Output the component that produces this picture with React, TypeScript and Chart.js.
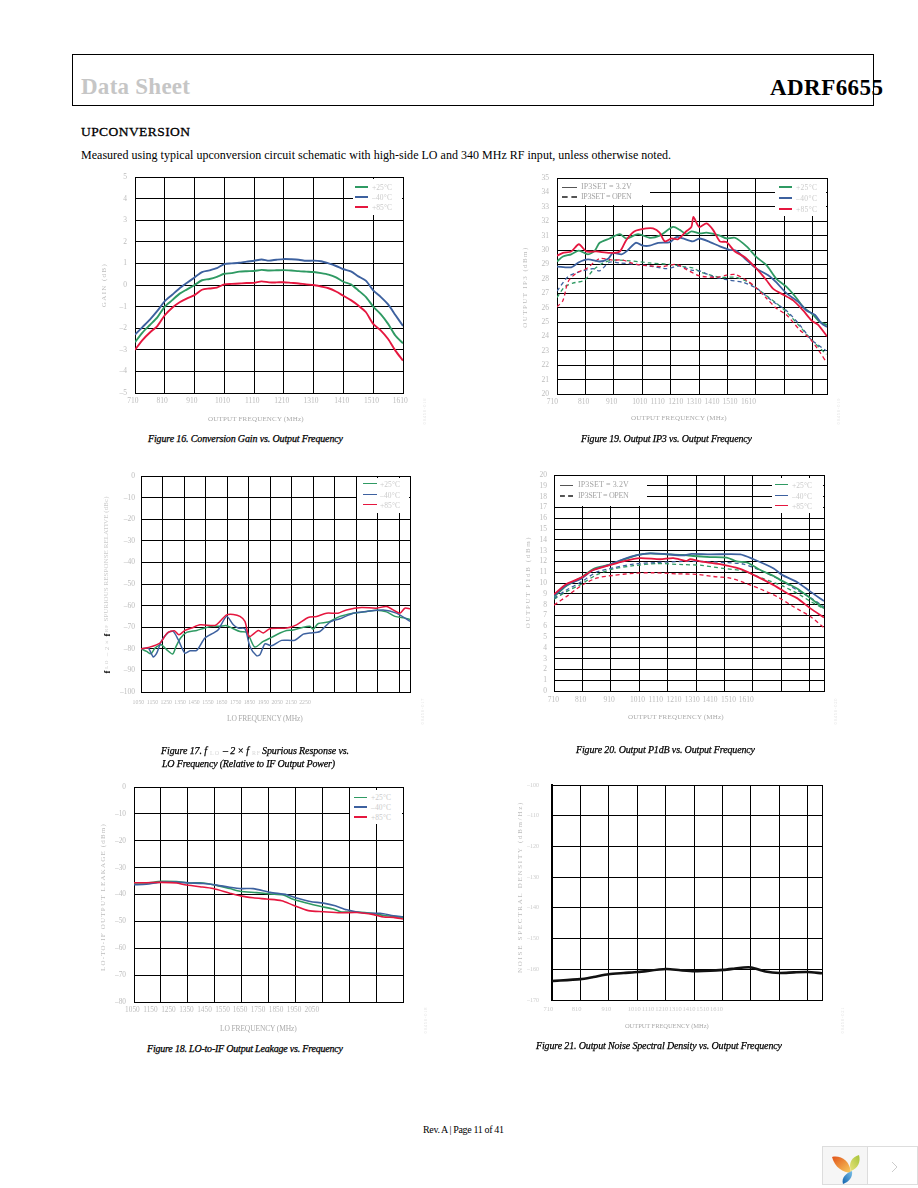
import React, { useEffect, useRef } from "react";
import { Chart, registerables } from "chart.js";

Chart.register(...registerables);

const GREEN = "#2F9A63";
const BLUE = "#3D619F";
const RED = "#E5173F";
const TICK = "#bcbcbc";

const tempNames = ["+25°C", "–40°C", "+85°C"];
const setNames = ["IP3SET = 3.2V", "IP3SET = OPEN"];

// ---------- Figure 16
const f16Freq = [710,735,760,785,810,835,860,885,910,935,960,985,1010,1035,1060,1085,1110,1135,1160,1185,1210,1235,1260,1285,1310,1335,1360,1385,1410,1435,1460,1485,1510,1535,1560,1585,1610];
const f16Green = [-2.65,-2.2,-1.85,-1.5,-1.0,-0.7,-0.4,-0.2,0,0.22,0.28,0.38,0.52,0.55,0.62,0.64,0.65,0.7,0.67,0.68,0.69,0.67,0.64,0.62,0.6,0.55,0.48,0.35,0.15,0.03,-0.25,-0.55,-1.0,-1.35,-1.8,-2.35,-2.7];
const f16Blue = [-2.3,-1.95,-1.6,-1.2,-0.75,-0.45,-0.15,0.1,0.35,0.6,0.68,0.78,0.97,1.0,1.03,1.08,1.12,1.18,1.13,1.17,1.2,1.19,1.17,1.12,1.13,1.1,1.0,0.88,0.73,0.63,0.4,0.2,-0.25,-0.55,-0.9,-1.4,-1.9];
const f16Red = [-3.0,-2.55,-2.2,-1.9,-1.4,-1.05,-0.8,-0.62,-0.47,-0.22,-0.16,-0.12,0.03,0.05,0.07,0.09,0.1,0.17,0.12,0.12,0.13,0.1,0.07,0.03,0,-0.07,-0.15,-0.3,-0.5,-0.7,-0.95,-1.25,-1.8,-2.1,-2.5,-3.05,-3.5];
const f16Grid = [710,810,910,1010,1110,1210,1310,1410,1510,1610];
const f16LabelAt = [703,801,901,1004,1104,1203,1301,1404,1504,1601];
const f16Labels = ["710","810","910","1010","1110","1210","1310","1410","1510","1610"];

// ---------- Figure 19
const f19GreenX = [710,731,760,787,819,843,860,895,931,954,995,1036,1071,1118,1142,1165,1183,1212,1236,1283,1306,1336,1377,1412,1447,1482,1517,1553,1576,1611,1635,1660];
const f19Green = [29.2,29.55,29.7,29.95,29.7,29.95,30.5,30.8,31.1,30.8,31.1,30.85,31.0,31.6,31.4,31.1,31.3,31.15,31.2,31.0,30.8,30.85,30.25,29.5,28.95,28.0,27.45,26.65,26.05,25.5,25.0,24.8];
const f19BlueX = [710,760,787,819,860,890,907,937,960,987,1013,1036,1066,1107,1130,1154,1187,1212,1248,1283,1318,1341,1377,1412,1453,1482,1517,1559,1588,1617,1641,1660];
const f19Blue = [28.85,28.8,29.15,29.35,29.2,29.4,29.8,29.7,30.0,30.5,30.3,30.3,30.5,30.55,30.9,30.8,30.6,30.8,30.55,30.25,30.0,29.95,29.3,28.7,28.25,27.75,27.0,26.4,25.8,25.5,24.9,24.65];
const f19RedX = [710,731,760,787,813,848,895,931,954,983,1025,1048,1071,1089,1113,1136,1165,1183,1190,1210,1236,1259,1283,1306,1336,1371,1412,1447,1471,1506,1541,1576,1606,1629,1660];
const f19Red = [29.6,29.8,29.9,30.4,29.9,29.9,29.8,29.9,30.7,31.3,31.5,31.5,31.2,30.6,30.8,30.75,31.3,31.6,32.3,31.6,31.85,31.4,30.6,30.55,29.9,29.5,28.7,27.9,27.3,26.9,26.5,25.8,25.1,24.8,24.0];
const f19GreenOpenX = [710,737,766,807,837,872,907,966,1036,1107,1154,1189,1218,1283,1341,1388,1435,1482,1517,1564,1606,1658];
const f19GreenOpen = [26.7,27.45,27.7,27.9,28.6,29.1,29.3,29.25,29.1,29.0,28.85,28.75,28.45,28.1,28.1,27.7,27.0,26.3,25.7,24.7,23.75,22.75];
const f19BlueOpenX = [710,749,790,837,860,895,931,989,1048,1095,1142,1183,1212,1259,1318,1365,1412,1471,1517,1564,1606,1658];
const f19BlueOpen = [27.15,28.15,28.5,28.7,28.55,29.15,29.1,29.0,28.85,28.7,28.9,28.6,28.55,28.15,27.9,27.75,27.35,26.4,25.8,24.8,23.75,23.0];
const f19RedOpenX = [710,731,749,778,813,860,907,942,989,1036,1083,1130,1165,1212,1271,1306,1336,1377,1412,1447,1482,1517,1564,1600,1635,1658];
const f19RedOpen = [26.05,26.5,27.8,28.4,28.7,29.4,29.3,29.3,29.0,28.9,28.85,29.0,28.65,28.2,28.1,28.25,28.3,27.9,27.35,26.65,25.95,25.5,24.45,23.85,22.9,22.2];
const f19Grid = [710,810,910,1010,1110,1210,1310,1410,1510,1610,1660];
const f19LabelAt = [694,804,902,1001,1064,1128,1192,1255,1319,1384];
const midLabels = ["710","810","910","1010","1110","1210","1310","1410","1510","1610"];

// ---------- Figure 17
const f17GreenX = [1050,1076,1096,1115,1144,1169,1197,1213,1234,1262,1309,1346,1386,1417,1445,1479,1510,1541,1556,1579,1618,1657,1696,1727,1757,1804,1835,1850,1874,1920,1974,2036,2098,2144,2191,2230,2276,2300];
const f17Green = [-80,-81.2,-82.3,-79.7,-78.1,-80.4,-82.4,-78.9,-75,-72.4,-71.5,-70.4,-69.5,-69.6,-69.2,-70.7,-72,-72.3,-75,-79.2,-76.6,-74.7,-72.7,-71.5,-71.3,-70,-69.6,-70.9,-68.3,-67.6,-65,-63.5,-62.7,-62.1,-62.9,-65,-65.8,-66.4];
const f17BlueX = [1050,1084,1107,1123,1144,1177,1200,1223,1254,1278,1309,1347,1386,1409,1448,1479,1502,1533,1556,1587,1603,1626,1657,1703,1765,1804,1835,1881,1928,1974,2036,2098,2175,2237,2300];
const f17Blue = [-80,-79.7,-83.8,-82,-76.6,-72.4,-72,-75.8,-82,-80.9,-80.7,-75,-72.7,-71.2,-65,-68.9,-70.4,-70.7,-78.9,-83.2,-82.7,-77.7,-78.6,-76.1,-76,-73.2,-72.7,-72,-67.6,-66.1,-63.5,-62.7,-62,-63.5,-67.3];
const f17RedX = [1050,1084,1138,1172,1205,1226,1254,1285,1324,1394,1417,1448,1479,1510,1533,1553,1595,1618,1649,1727,1773,1827,1866,1912,1966,2005,2075,2144,2191,2253,2276,2300];
const f17Red = [-80,-79.4,-77.4,-72.7,-71.6,-73.5,-71.5,-70.4,-68.9,-69.2,-67.3,-64.3,-64.1,-65,-67.3,-74.3,-71.5,-72.7,-70.7,-70.4,-68.9,-65.5,-65,-63.5,-63.5,-62,-60.9,-61.2,-60.4,-63.5,-61.2,-61.5];
const f17Grid = [1050,1150,1250,1350,1450,1550,1650,1750,1850,1950,2050,2150,2250,2300];
const f17LabelAt = [1038,1103,1167,1232,1296,1361,1425,1490,1554,1619,1683,1748,1812];
const f17Labels = ["1050","1150","1250","1350","1450","1550","1650","1750","1850","1950","2050","2150","2250"];

// ---------- Figure 20
const f20BlueX = [710,754,806,848,906,953,1006,1048,1095,1165,1194,1259,1365,1412,1483,1512,1565,1612,1660];
const f20Blue = [8.83,9.8,10.4,11.2,11.7,12.2,12.6,12.75,12.7,12.55,12.7,12.65,12.65,12.2,11.35,10.75,10.1,9.2,8.33];
const f20GreenX = [710,754,806,848,906,953,1006,1048,1106,1165,1200,1259,1318,1353,1389,1436,1483,1512,1565,1612,1660];
const f20Green = [8.73,9.75,10.5,11.3,11.7,12.15,12.6,12.75,12.65,12.6,12.5,12.4,12.35,12,11.9,11.2,10.65,10.2,9.5,8.6,7.65];
const f20RedX = [710,754,806,848,906,953,1012,1083,1130,1177,1189,1224,1294,1365,1412,1483,1530,1565,1612,1660];
const f20Red = [8.95,9.9,10.5,11.2,11.65,12,12.3,12.2,12.3,12.05,12.2,12,11.75,11.3,10.75,9.8,9.05,8.6,7.65,6.8];
const f20OpenX = [710,754,806,859,918,989,1071,1165,1224,1306,1377,1447,1512,1565,1612,1660];
const f20BlueOpen = [8.6,9.35,10.1,11.0,11.4,11.75,11.9,12,12,11.9,11.75,11.05,10.2,9.35,8.65,7.8];
const f20GreenOpen = [8.5,9.2,9.9,10.75,11.3,11.6,11.8,11.7,11.65,11.35,11.1,10.4,9.75,9.05,8.3,7.6];
const f20RedOpenX = [710,754,806,859,918,989,1059,1142,1212,1271,1330,1377,1436,1494,1553,1612,1660];
const f20RedOpen = [7.95,8.75,9.75,10.45,10.7,10.9,10.95,10.85,10.8,10.6,10.45,10.05,9.45,8.75,7.8,6.9,5.85];
const f20LabelAt = [708,804,904,1004,1068,1132,1196,1259,1324,1386];

// ---------- Figure 18
const f18GreenX = [1050,1096,1151,1208,1257,1307,1357,1406,1444,1506,1556,1605,1642,1692,1742,1791,1822,1878,1941,1978,2050];
const f18Green = [-35.7,-35.7,-35.1,-35.2,-35.7,-35.7,-36.6,-37.8,-38.8,-39.3,-39.8,-40.2,-41.8,-43.2,-44.4,-45.4,-46.5,-46.5,-47.1,-47.8,-48.5];
const f18BlueX = [1050,1096,1151,1208,1257,1307,1357,1406,1450,1493,1556,1618,1655,1705,1754,1798,1841,1903,1965,2015,2050];
const f18Blue = [-36.4,-36.2,-35.4,-35.4,-35.7,-35.9,-36.5,-37.3,-37.8,-37.8,-39.2,-40.1,-41.3,-42.6,-43.2,-44.2,-45.7,-46.9,-47,-47.9,-48.3];
const f18RedX = [1050,1096,1151,1208,1239,1295,1344,1406,1450,1493,1543,1599,1642,1698,1754,1816,1878,1941,1978,2015,2050];
const f18Red = [-35.6,-35.6,-35.5,-35.7,-36.4,-37.1,-37.8,-39.5,-40.6,-41.2,-41.7,-42.3,-44,-46,-46.4,-46.8,-46.7,-47.5,-48.4,-48.5,-49.1];
const f18Grid = [1050,1150,1250,1350,1450,1550,1650,1750,1850,1950,2050];
const f18LabelAt = [1044,1111,1178,1245,1312,1379,1444,1511,1578,1645,1711];
const f18Labels = ["1050","1150","1250","1350","1450","1550","1650","1750","1850","1950","2050"];

// ---------- Figure 21
const f21Freq = [710,810,856,909,962,1011,1111,1162,1212,1267,1312,1350,1385,1411,1461,1510,1561,1609,1660];
const f21Noise = [-163.8,-163.2,-162.5,-161.6,-161.2,-160.9,-159.9,-160.3,-160.6,-160.5,-160.2,-159.8,-159.4,-159.4,-160.7,-161.2,-161,-160.9,-161.3];
const f21LabelAt = [697,797,901,999,1048,1096,1144,1192,1240,1289];

type Ser = { xs: number[]; ys: number[]; color: string; width: number; dash?: boolean };
type Fig = {
  rect: [number, number, number, number];
  grid: number[]; labelAt: number[]; labels: string[];
  yMin: number; yMax: number; yStep: number;
  yPad: number; xPad: number; tickSize: number; xTickSize?: number; leftBorder?: number; tickColor?: string;
  series: Ser[];
};

const sol = (xs: number[], ys: number[], color: string, width: number): Ser => ({ xs, ys, color, width });
const dsh = (xs: number[], ys: number[], color: string, width: number): Ser => ({ xs, ys, color, width, dash: true });

const figures: Fig[] = [
  { rect: [135, 177, 403, 393], grid: f16Grid, labelAt: f16LabelAt, labels: f16Labels, yMin: -5, yMax: 5, yStep: 1, yPad: 8, xPad: 4, tickSize: 7.5,
    series: [sol(f16Freq, f16Green, GREEN, 1.9), sol(f16Freq, f16Blue, BLUE, 1.9), sol(f16Freq, f16Red, RED, 1.9)] },
  { rect: [557, 178, 827, 394], grid: f19Grid, labelAt: f19LabelAt, labels: midLabels, yMin: 20, yMax: 35, yStep: 1, yPad: 8, xPad: 4, tickSize: 7.5,
    series: [dsh(f19GreenOpenX, f19GreenOpen, GREEN, 1.3), dsh(f19BlueOpenX, f19BlueOpen, BLUE, 1.3), dsh(f19RedOpenX, f19RedOpen, RED, 1.3),
      sol(f19GreenX, f19Green, GREEN, 1.8), sol(f19BlueX, f19Blue, BLUE, 1.8), sol(f19RedX, f19Red, RED, 1.8)] },
  { rect: [141, 476, 410, 692], grid: f17Grid, labelAt: f17LabelAt, labels: f17Labels, yMin: -100, yMax: 0, yStep: 10, yPad: 6, xPad: 7, tickSize: 7.5, xTickSize: 5.8,
    series: [sol(f17GreenX, f17Green, GREEN, 1.5), sol(f17BlueX, f17Blue, BLUE, 1.5), sol(f17RedX, f17Red, RED, 1.5)] },
  { rect: [554, 475, 824, 691], grid: f19Grid, labelAt: f20LabelAt, labels: midLabels, yMin: 0, yMax: 20, yStep: 1, yPad: 7, xPad: 5, tickSize: 7.5,
    series: [dsh(f20OpenX, f20GreenOpen, GREEN, 1.3), dsh(f20OpenX, f20BlueOpen, BLUE, 1.3), dsh(f20RedOpenX, f20RedOpen, RED, 1.3),
      sol(f20GreenX, f20Green, GREEN, 1.8), sol(f20BlueX, f20Blue, BLUE, 1.8), sol(f20RedX, f20Red, RED, 1.8)] },
  { rect: [134, 787, 403, 1002], grid: f18Grid, labelAt: f18LabelAt, labels: f18Labels, yMin: -80, yMax: 0, yStep: 10, yPad: 8, xPad: 4, tickSize: 7.3,
    series: [sol(f18GreenX, f18Green, GREEN, 1.6), sol(f18BlueX, f18Blue, BLUE, 1.6), sol(f18RedX, f18Red, RED, 1.6)] },
  { rect: [552, 785, 822, 1000], grid: f19Grid, labelAt: f21LabelAt, labels: midLabels, yMin: -170, yMax: -100, yStep: 10, yPad: 13, xPad: 5, tickSize: 6, xTickSize: 6.5, leftBorder: 2, tickColor: "#cccccc",
    series: [sol(f21Freq, f21Noise, "#111111", 2.6)] },
];

const PAD = { l: 50, t: 30, r: 22, b: 26 };

function FigureChart({ fig }: { fig: Fig }) {
  const ref = useRef<HTMLCanvasElement>(null);
  const [x0, y0, x1, y1] = fig.rect;
  const W = x1 - x0 + PAD.l + PAD.r;
  const H = y1 - y0 + PAD.t + PAD.b;
  useEffect(() => {
    const xmin = fig.grid[0];
    const xmax = fig.grid[fig.grid.length - 1];
    const n = fig.series.length;
    const color = fig.tickColor ?? TICK;
    const chart = new Chart(ref.current!, {
      type: "line",
      data: {
        datasets: fig.series.map((s, i) => ({
          data: s.xs.map((x, k) => ({ x, y: s.ys[k] })),
          borderColor: s.color,
          borderWidth: s.width,
          borderDash: s.dash ? [4, 3] : [],
          pointRadius: 0,
          tension: 0.25,
          fill: false,
          order: n - i,
          xAxisID: "x",
          yAxisID: "y",
        })),
      },
      options: {
        animation: false,
        responsive: false,
        devicePixelRatio: 1,
        parsing: { xAxisKey: "x", yAxisKey: "y" },
        layout: { padding: { left: 0, top: PAD.t, right: PAD.r, bottom: 0 } },
        plugins: { legend: { display: false }, title: { display: false }, tooltip: { enabled: false } },
        scales: {
          x: {
            type: "linear", position: "bottom", min: xmin, max: xmax,
            grid: { color: "#000", lineWidth: 1, drawTicks: false },
            border: { color: "#000", width: 1 },
            ticks: { display: false },
            afterBuildTicks: (a: any) => { a.ticks = fig.grid.map((value) => ({ value })); },
            afterFit: (a: any) => { a.height = 0; },
          },
          xl: {
            type: "linear", axis: "x", position: "bottom", min: xmin, max: xmax,
            grid: { display: false, drawTicks: false },
            border: { display: false },
            ticks: {
              autoSkip: false, maxRotation: 0, minRotation: 0, padding: fig.xPad,
              color, font: { family: "'Liberation Serif'", size: fig.xTickSize ?? fig.tickSize },
              callback: (_v: any, i: number) => fig.labels[i],
            },
            afterBuildTicks: (a: any) => { a.ticks = fig.labelAt.map((value) => ({ value })); },
            afterFit: (a: any) => { a.height = PAD.b; },
          },
          y: {
            type: "linear", position: "left", min: fig.yMin, max: fig.yMax,
            grid: { color: "#000", lineWidth: 1, drawTicks: false },
            border: { color: "#000", width: fig.leftBorder ?? 1 },
            ticks: {
              stepSize: fig.yStep, padding: fig.yPad, autoSkip: false,
              color, font: { family: "'Liberation Serif'", size: fig.tickSize },
              callback: (v: any) => (Number(v) < 0 ? "–" + Math.abs(Number(v)) : String(v)),
            },
            afterFit: (a: any) => { a.width = PAD.l; },
          },
        },
      },
    } as any);
    return () => chart.destroy();
  }, []);
  return (
    <canvas ref={ref} width={W} height={H}
      style={{ position: "absolute", left: x0 - PAD.l, top: y0 - PAD.t, width: W, height: H, display: "block" }} />
  );
}

const measure = document.createElement("canvas").getContext("2d")!;
const SERIF = "'Liberation Serif'";

type TP = { s: string; x: number; y: number; w: number; size: number; color?: string; weight?: number | string; italic?: boolean; stroke?: number; rot?: boolean };
function T({ s, x, y, w, size, color = "#000", weight = "normal", italic = false, stroke = 0, rot = false }: TP) {
  measure.font = `${italic ? "italic " : ""}${weight} ${size}px ${SERIF}`;
  const raw = measure.measureText(s).width;
  const ls = s.length > 1 ? (w - raw) / (s.length - 1) : 0;
  const base: React.CSSProperties = {
    position: "absolute", whiteSpace: "nowrap", fontFamily: SERIF, fontSize: size, lineHeight: `${Math.ceil(size * 1.2)}px`,
    letterSpacing: ls, color, fontWeight: weight as any, fontStyle: italic ? "italic" : "normal",
    WebkitTextStroke: stroke ? `${stroke}px ${color}` : undefined,
  };
  if (rot) {
    return <div style={{ ...base, left: x, top: y, transform: "translate(-50%,-50%) rotate(-90deg)" }}>{s}</div>;
  }
  return <div style={{ ...base, left: x, top: y - Math.ceil(size * 1.2) / 2 }}>{s}</div>;
}

function Patch({ x0, y0, x1, y1 }: { x0: number; y0: number; x1: number; y1: number }) {
  return <div style={{ position: "absolute", left: x0, top: y0, width: x1 - x0, height: y1 - y0, background: "#fff" }} />;
}

function Swatch({ x, y, w, color, h, dash }: { x: number; y: number; w: number; color: string; h: number; dash?: boolean }) {
  return (
    <div style={{
      position: "absolute", left: x, top: y - h / 2, width: w, height: 0,
      borderTop: `${h}px ${dash ? "dashed" : "solid"} ${color}`,
    }} />
  );
}

type LG = { box: [number, number, number, number]; sx: number; sw: number; tx: number; tw: number; ys: number[]; h: number[] };
const LEG = "#cbcbcb";
function TempLegend({ box, sx, sw, tx, tw, ys, h }: LG) {
  const colors = [GREEN, BLUE, RED];
  return (
    <>
      <Patch x0={box[0]} y0={box[1]} x1={box[2]} y1={box[3]} />
      {tempNames.map((n, i) => (
        <React.Fragment key={n}>
          <Swatch x={sx} y={ys[i]} w={sw} color={colors[i]} h={h[i]} />
          <T s={n} x={tx} y={ys[i]} w={tw} size={7.5} color={LEG} />
        </React.Fragment>
      ))}
    </>
  );
}
function SetLegend({ box, sx, sw, tx, tw, ys }: { box: number[]; sx: number; sw: number; tx: number; tw: number; ys: number[] }) {
  return (
    <>
      <Patch x0={box[0]} y0={box[1]} x1={box[2]} y1={box[3]} />
      {setNames.map((n, i) => (
        <React.Fragment key={n}>
          <Swatch x={sx} y={ys[i]} w={sw} color="#555" h={i === 0 ? 1 : 2} dash={i === 1} />
          <T s={n} x={tx} y={ys[i]} w={tw} size={8} color="#a4a4a4" />
        </React.Fragment>
      ))}
    </>
  );
}

const AX = "#aaaaaa";
const xTitles: [string, number, number, number, number][] = [
  ["OUTPUT FREQUENCY (MHz)", 208, 419, 96, 7],
  ["OUTPUT FREQUENCY (MHz)", 631, 418, 96, 7],
  ["LO FREQUENCY (MHz)", 227, 718, 76, 7.5],
  ["OUTPUT FREQUENCY (MHz)", 628, 717, 96, 7],
  ["LO FREQUENCY (MHz)", 220, 1028, 77, 7.5],
  ["OUTPUT FREQUENCY (MHz)", 625, 1026, 84, 6.5],
];
const yTitles: [string, number, number, number, number][] = [
  ["GAIN (dB)", 104, 285, 43, 7],
  ["OUTPUT IP3 (dBm)", 525, 287, 80, 7],
  ["OUTPUT P1dB (dBm)", 528, 582, 91, 7],
  ["LO-TO-IF OUTPUT LEAKAGE (dBm)", 103, 897, 147, 7],
  ["NOISE SPECTRAL DENSITY (dBm/Hz)", 520, 887, 171, 7],
];
const captions: [string, number, number, number][] = [
  ["Figure 16. Conversion Gain vs. Output Frequency", 148, 439, 195],
  ["Figure 19. Output IP3 vs. Output Frequency", 581, 439, 171],
  ["LO Frequency (Relative to IF Output Power)", 162, 764, 173],
  ["Figure 20. Output P1dB vs. Output Frequency", 576, 750, 179],
  ["Figure 18. LO-to-IF Output Leakage vs. Frequency", 147, 1049, 196],
  ["Figure 21. Output Noise Spectral Density vs. Output Frequency", 536, 1046, 246],
];
const figIds: [string, number, number][] = [
  ["09456-016", 425, 411], ["09456-019", 839, 411], ["09456-017", 423, 711],
  ["09456-020", 836, 711], ["09456-018", 426, 1020], ["09456-021", 843, 1020],
];

export default function App() {
  return (
    <div style={{ position: "absolute", left: 0, top: 0, width: 918, height: 1188, overflow: "hidden", background: "#fff" }}>
      <div style={{ position: "absolute", left: 72, top: 54, width: 800, height: 50, border: "1px solid #000" }} />
      <T s="Data Sheet" x={81} y={87} w={109} size={23} weight="bold" color="#c6c6c6" />
      <T s="ADRF6655" x={770} y={88} w={113} size={23} weight="bold" />
      <T s="UPCONVERSION" x={81} y={131.5} w={109} size={13.5} stroke={0.3} />
      <T s="Measured using typical upconversion circuit schematic with high-side LO and 340 MHz RF input, unless otherwise noted." x={81} y={155} w={590} size={12} />

      {figures.map((f, i) => <FigureChart key={i} fig={f} />)}

      <TempLegend box={[353, 179, 402, 215]} sx={355} sw={13} tx={372} tw={20} ys={[187, 197, 207]} h={[2, 2, 2]} />
      <SetLegend box={[558, 179, 650, 205]} sx={562} sw={15} tx={581} tw={51} ys={[187, 197]} />
      <TempLegend box={[775, 179, 826, 216]} sx={779} sw={13} tx={796} tw={21} ys={[187, 198, 209]} h={[2, 2, 2]} />
      <TempLegend box={[357, 478, 409, 513]} sx={363} sw={14} tx={380} tw={20} ys={[484, 495, 505]} h={[1.5, 1.5, 1.5]} />
      <SetLegend box={[555, 476, 647, 506]} sx={560} sw={13} tx={578} tw={51} ys={[485, 496]} />
      <TempLegend box={[772, 478, 823, 513]} sx={775} sw={13} tx={792} tw={20} ys={[485, 496, 506]} h={[1.5, 1.5, 1.5]} />
      <TempLegend box={[350, 790, 402, 824]} sx={354} sw={13} tx={371} tw={20} ys={[797, 807, 817]} h={[1, 2, 2]} />

      {xTitles.map(([s, x, y, w, size], i) => <T key={i} s={s} x={x} y={y} w={w} size={size} color={AX} />)}
      {yTitles.map(([s, x, y, w, size], i) => <T key={i} s={s} x={x} y={y} w={w} size={size} color={TICK} rot />)}

      {/* Figure 17 y title, in pieces because the f's are dark */}
      <T s="f" x={107} y={672} w={4} size={9} weight="bold" rot />
      <T s="LO" x={107} y={664} w={8} size={5} color={LEG} rot />
      <T s="– 2 ×" x={107} y={648} w={16} size={7} color={LEG} rot />
      <T s="f" x={107} y={635} w={4} size={9} weight="bold" rot />
      <T s="RF" x={107} y={628} w={7} size={5} color={LEG} rot />
      <T s="SPURIOUS RESPONSE RELATIVE (dBc)" x={106} y={559} w={125} size={7} color={LEG} rot />

      {captions.map(([s, x, y, w], i) => <T key={i} s={s} x={x} y={y} w={w} size={10} italic stroke={0.25} />)}
      <T s="Figure 17. f" x={161} y={751} w={46} size={10} italic stroke={0.25} />
      <T s="LO" x={210} y={753} w={9} size={6} color="#d8d8d8" />
      <T s="– 2 × f" x={223} y={751} w={26} size={10} italic stroke={0.25} />
      <T s="RF" x={252} y={753} w={8} size={6} color="#d8d8d8" />
      <T s="Spurious Response vs." x={262} y={751} w={87} size={10} italic stroke={0.25} />

      {figIds.map(([s, x, y], i) => <T key={i} s={s} x={x} y={y} w={26} size={4.5} color="#dedede" rot />)}

      <T s="Rev. A | Page 11 of 41" x={423} y={1130} w={82} size={10} />

      <div style={{ position: "absolute", left: 822, top: 1146, width: 46, height: 39, background: "#f6f6f6", border: "1px solid #ddd", boxSizing: "border-box" }} />
      <div style={{ position: "absolute", left: 867, top: 1146, width: 51, height: 39, background: "#fff", border: "1px solid #ddd", boxSizing: "border-box" }} />
      <svg width={918} height={1188} style={{ position: "absolute", left: 0, top: 0, pointerEvents: "none" }}>
        <defs>
          <linearGradient id="o" x1="0" y1="0" x2="1" y2="1"><stop offset="0" stopColor="#e2541a" /><stop offset="1" stopColor="#f8cf62" /></linearGradient>
          <linearGradient id="g" x1="1" y1="0" x2="0" y2="1"><stop offset="0" stopColor="#a6c43a" /><stop offset="1" stopColor="#e8e27a" /></linearGradient>
          <linearGradient id="b" x1="1" y1="0" x2="0" y2="1"><stop offset="0" stopColor="#7cc0e8" /><stop offset="1" stopColor="#0f62ad" /></linearGradient>
        </defs>
        <path d="M832 1157 C840 1155 850 1160 851 1173 C843 1172 835 1168 832 1157 Z" fill="url(#o)" />
        <path d="M851 1171 C848 1163 852 1157 859 1155 C861 1162 858 1168 851 1171 Z" fill="url(#g)" />
        <path d="M852 1171 C853 1177 849 1182 843 1184 C841 1178 846 1173 852 1171 Z" fill="url(#b)" />
        <path d="M892 1162 L897 1167 L892 1172" fill="none" stroke="#ccc" strokeWidth={1} />
      </svg>
    </div>
  );
}
